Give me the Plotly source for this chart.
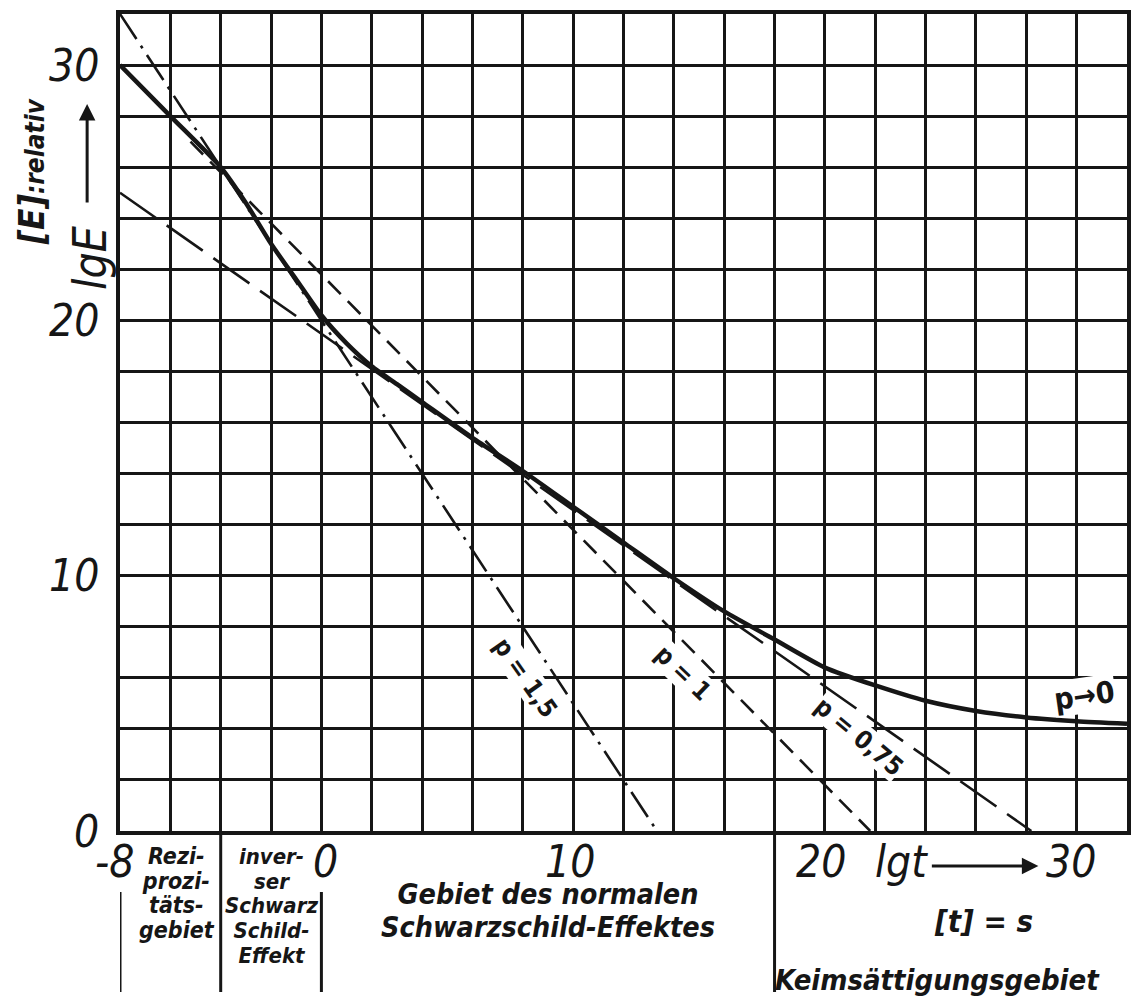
import plotly.graph_objects as go

# ---------------- data ----------------
# characteristic curve  lgE = f(lgt)
curve_lgt = [-8, -6, -4, -3, -2, -1, 0, 1, 2, 3, 4, 6, 8, 10, 12, 14, 16, 18,
             20, 22, 24, 26, 28, 30, 32]
curve_lgE = [30.0, 28.0, 26.0, 24.6, 23.0, 21.6, 20.2, 19.1, 18.2, 17.5, 16.8,
             15.4, 14.1, 12.7, 11.3, 9.9, 8.6, 7.5, 6.4, 5.7, 5.1, 4.7, 4.45,
             4.3, 4.2]

# Schwarzschild straight lines (end points)
p15_lgt = [-8.0, 13.33]
p15_lgE = [32.0, 0.0]
p1_lgt = [-5.2, 21.8]
p1_lgE = [27.0, 0.0]
p075_lgt = [-8.0, 28.2]
p075_lgE = [25.0, 0.0]

# region boundaries below the diagram
region_bounds = [-8, -4, 0, 18]

# tick labels
x_tick_vals = [-8, 0, 10, 20, 30]
x_tick_text = ["-8", "0", "10", "20", "30"]
y_tick_vals = [0, 10, 20, 30]
y_tick_text = ["0", "10", "20", "30"]

# region names
rezi_lines = ["Rezi-", "prozi-", "täts-", "gebiet"]
inver_lines = ["inver-", "ser", "Schwarz", "Schild-", "Effekt"]
normal_lines = ["Gebiet des normalen", "Schwarzschild-Effektes"]
keim_text = "Keimsättigungsgebiet"

# ---------------- layout geometry ----------------
W, H = 1134, 1003
L, R, T, B = 120, 3, 14, 172
PW = W - L - R
PH = H - T - B
INK = "#161616"
FAM = "DejaVu Sans Condensed, DejaVu Sans, sans-serif"


def xp(px):
    return (px - L) / PW


def yp(py):
    return (H - B - py) / PH


def block(lines, size):
    return "<br>".join("<span style='font-size:%spx'>%s</span>" % (size, s) for s in lines)


big = dict(family=FAM, size=44, color=INK, style="italic")

fig = go.Figure()

fig.add_trace(go.Scatter(x=p15_lgt, y=p15_lgE, mode="lines",
                         line=dict(color=INK, width=2.6, dash="30px,8px,3px,8px"),
                         hoverinfo="skip"))
fig.add_trace(go.Scatter(x=p1_lgt, y=p1_lgE, mode="lines",
                         line=dict(color=INK, width=2.6, dash="18px,10px"),
                         hoverinfo="skip"))
fig.add_trace(go.Scatter(x=p075_lgt, y=p075_lgE, mode="lines",
                         line=dict(color=INK, width=2.6, dash="44px,13px"),
                         hoverinfo="skip"))
fig.add_trace(go.Scatter(x=curve_lgt, y=curve_lgE, mode="lines",
                         line=dict(color=INK, width=4.5, shape="spline", smoothing=0.6),
                         hoverinfo="skip"))

ann = []
# y tick labels
for v, t in zip(y_tick_vals, y_tick_text):
    ann.append(dict(x=0, xref="paper", y=v, yref="y", text=t, showarrow=False,
                    xanchor="right", yanchor="middle", xshift=-19, font=big))
# x tick labels
x_shift = {"-8": -6, "0": 4, "10": -3, "20": -4, "30": -6}
for v, t in zip(x_tick_vals, x_tick_text):
    ann.append(dict(x=v, xref="x", y=yp(861), yref="paper", text=t, showarrow=False,
                    xanchor="center", yanchor="middle", xshift=x_shift[t], font=big))
# lgt with arrow
ann.append(dict(x=xp(905), xref="paper", y=yp(861), yref="paper", text="lgt",
                showarrow=False, xanchor="center", yanchor="middle", font=big))
ann.append(dict(x=xp(1042), xref="paper", y=yp(866), yref="paper", text="",
                showarrow=True, ax=-108, ay=0, arrowhead=2, arrowsize=1.1,
                arrowwidth=3, arrowcolor=INK, standoff=0, startstandoff=0))
ann.append(dict(x=xp(987), xref="paper", y=yp(921), yref="paper", text="[t] = s",
                showarrow=False, xanchor="center", yanchor="middle",
                font=dict(family=FAM, size=31, color=INK, style="italic", weight="bold")))
# y axis title
ann.append(dict(x=xp(90), xref="paper", y=yp(258), yref="paper", text="lgE",
                showarrow=False, xanchor="center", yanchor="middle", textangle=-90,
                font=dict(family=FAM, size=46, color=INK, style="italic")))
ann.append(dict(x=xp(87), xref="paper", y=yp(104), yref="paper", text="",
                showarrow=True, ax=0, ay=100, arrowhead=2, arrowsize=1.1,
                arrowwidth=3, arrowcolor=INK, standoff=0, startstandoff=0))
ann.append(dict(x=xp(32), xref="paper", y=yp(172), yref="paper",
                text="[E]<span style='font-size:26px'>:relativ</span>",
                showarrow=False, xanchor="center", yanchor="middle", textangle=-90,
                font=dict(family=FAM, size=35, color=INK, style="italic", weight="bold")))

# region texts (tight line spacing: small base size, larger glyphs)
ann.append(dict(x=xp(177), xref="paper", y=yp(893), yref="paper",
                text=block(rezi_lines, 23), showarrow=False, align="center",
                xanchor="center", yanchor="middle",
                font=dict(family=FAM, size=19, color=INK, style="italic", weight="bold")))
ann.append(dict(x=xp(272), xref="paper", y=yp(906), yref="paper",
                text=block(inver_lines, 22), showarrow=False, align="center",
                xanchor="center", yanchor="middle",
                font=dict(family=FAM, size=19, color=INK, style="italic", weight="bold")))
ann.append(dict(x=xp(550), xref="paper", y=yp(911), yref="paper",
                text=block(normal_lines, 28.5), showarrow=False, align="center",
                xanchor="center", yanchor="middle",
                font=dict(family=FAM, size=25, color=INK, style="italic", weight="bold")))
ann.append(dict(x=xp(941), xref="paper", y=yp(980), yref="paper", text=keim_text,
                showarrow=False, xanchor="center", yanchor="middle",
                font=dict(family=FAM, size=29, color=INK, style="italic", weight="bold")))

# line labels
lab_font = dict(family=FAM, size=25, color=INK, weight="bold")
ann.append(dict(x=8.1, y=6.0, xref="x", yref="y", text="p = 1,5", showarrow=False,
                textangle=55, bgcolor="white", borderpad=0, font=lab_font))
ann.append(dict(x=14.35, y=6.2, xref="x", yref="y", text="p = 1", showarrow=False,
                textangle=44, bgcolor="white", borderpad=0, font=lab_font))
ann.append(dict(x=21.35, y=3.7, xref="x", yref="y", text="p = 0,75", showarrow=False,
                textangle=40, bgcolor="white", borderpad=0, font=lab_font))
ann.append(dict(x=30.3, y=5.3, xref="x", yref="y", text="p→0", showarrow=False,
                textangle=-8, bgcolor="white", borderpad=0,
                font=dict(family=FAM, size=30, color=INK, weight="bold")))

# region separators below the plot
line_tops = [892, 831, 892, 831]
shapes = []
for b, top in zip(region_bounds, line_tops):
    shapes.append(dict(type="line", xref="x", yref="paper", x0=b, x1=b,
                       y0=yp(top), y1=yp(992), line=dict(color=INK, width=3)))

axis_common = dict(showgrid=True, gridcolor=INK, gridwidth=3, showticklabels=False,
                   ticks="", zeroline=False, showline=True, linecolor=INK,
                   linewidth=4, mirror=True, fixedrange=True)

fig.update_layout(
    width=W, height=H,
    margin=dict(l=L, r=R, t=T, b=B, pad=0),
    paper_bgcolor="white", plot_bgcolor="white",
    showlegend=False,
    xaxis=dict(range=[-8, 32], tick0=-8, dtick=2, **axis_common),
    yaxis=dict(range=[0, 32], tick0=0, dtick=2, **axis_common),
    annotations=ann,
    shapes=shapes,
)

fig.write_html("out.html")
